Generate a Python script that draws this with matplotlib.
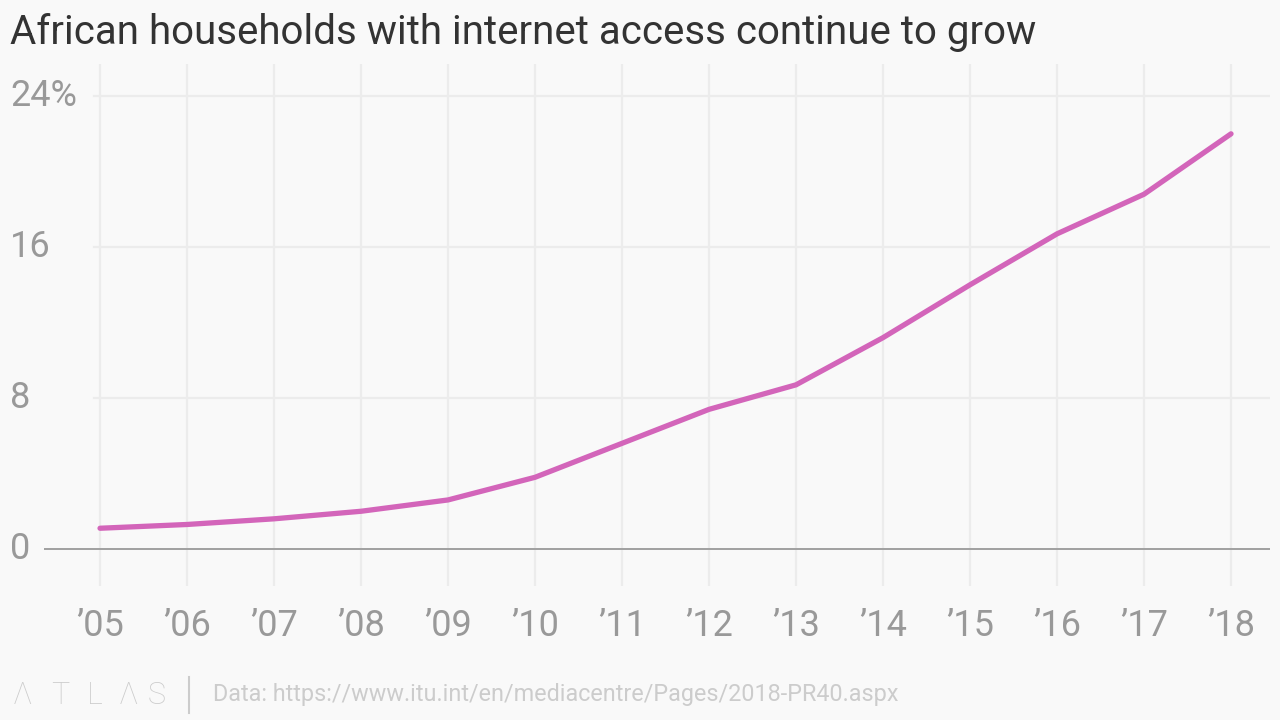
import matplotlib.pyplot as plt
import matplotlib.transforms as mtransforms
from matplotlib.lines import Line2D

years = [2005, 2006, 2007, 2008, 2009, 2010, 2011, 2012, 2013, 2014, 2015, 2016, 2017, 2018]
share = [1.1, 1.3, 1.6, 2.0, 2.6, 3.8, 5.6, 7.4, 8.7, 11.2, 14.0, 16.7, 18.8, 22.0]
year_labels = ["\u201905", "\u201906", "\u201907", "\u201908", "\u201909", "\u201910", "\u201911",
               "\u201912", "\u201913", "\u201914", "\u201915", "\u201916", "\u201917", "\u201918"]
y_ticks = [0, 8, 16, 24]
y_labels = ["0", "8", "16", "24%"]

BG = "#f9f9f9"
GRID = "#ececec"
TICK = "#999999"
LINE = "#d365ba"
FOOT = "#cccccc"

plt.rcParams["font.family"] = ["Roboto", "DejaVu Sans"]

W, H = 1280, 720
fig = plt.figure(figsize=(12.8, 7.2), dpi=100, facecolor=BG)
ax = fig.add_axes([44 / W, (H - 586) / H, (1270 - 44) / W, (586 - 64) / H])
ax.set_facecolor(BG)
ax.set_xlim(2004.356, 2018.448)
ax.set_ylim(-1.96, 25.7)
for s in ax.spines.values():
    s.set_visible(False)
ax.set_xticks([])
ax.set_yticks([])

# vertical gridlines
for yr in years:
    ax.axvline(yr, color=GRID, linewidth=1.6, zorder=1)
# horizontal gridlines
for v in y_ticks[1:]:
    ax.axhline(v, xmin=(94 - 44) / (1270 - 44), xmax=1, color=GRID, linewidth=1.6, zorder=1)
ax.axhline(0, color="#a0a0a0", linewidth=1.4, zorder=2)

ax.plot(years, share, color=LINE, linewidth=3.8, solid_capstyle="round", zorder=3)

# y labels, left aligned at figure edge
trans_y = mtransforms.blended_transform_factory(fig.transFigure, ax.transData)
for v, lab in zip(y_ticks, y_labels):
    fig.text(10 / W, v, lab, transform=trans_y, ha="left", va="center",
             fontsize=26, color=TICK)

# x labels
trans_x = mtransforms.blended_transform_factory(ax.transData, fig.transFigure)
for yr, lab in zip(years, year_labels):
    ax.text(yr, (H - 626) / H, lab, transform=trans_x, ha="center", va="center",
            fontsize=26, color=TICK, clip_on=False)

fig.text(10 / W, (H - 33) / H, "African households with internet access continue to grow",
         ha="left", va="center", fontsize=29, color="#333333")

# footer: ATLAS logo, separator, source
for letter, cx in zip(["\u039b", "T", "L", "\u039b", "S"], [22, 60, 95, 128, 157]):
    fig.text(cx / W, (H - 695) / H, letter, ha="center", va="center",
             fontsize=22, color=FOOT, fontweight="light")
fig.add_artist(Line2D([189 / W, 189 / W], [(H - 713) / H, (H - 677) / H],
                      transform=fig.transFigure, color=FOOT, linewidth=1.5))
fig.text(213 / W, (H - 694) / H, "Data: https://www.itu.int/en/mediacentre/Pages/2018-PR40.aspx",
         ha="left", va="center", fontsize=16.8, color=FOOT)

fig.savefig("out.png", dpi=100, facecolor=BG)
